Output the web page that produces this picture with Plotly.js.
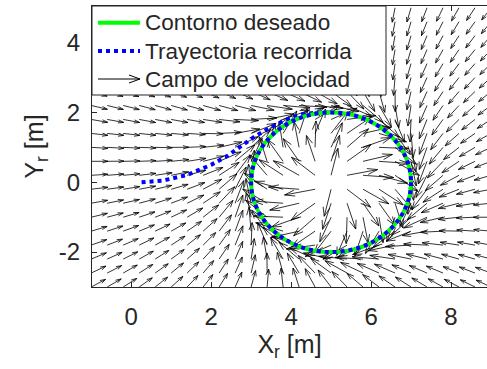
<!DOCTYPE html>
<html>
<head>
<meta charset="utf-8">
<script src="https://cdn.plot.ly/plotly-3.0.1.min.js"></script>
<style>html,body{margin:0;padding:0;background:#fff;}#chart{width:487px;height:369px;}</style>
</head>
<body>
<div id="chart"></div>
<script>
// ---- data ----
const circleCenter = [5, 0];
const circleRadius = [2];
const gridX = [-1.0,-0.6,-0.2,0.2,0.6,1.0,1.4,1.8,2.2,2.6,3.0,3.4,3.8,4.2,4.6,5.0,5.4,5.8,6.2,6.6,7.0,7.4,7.8,8.2,8.6,9.0];
const gridY = [-3.0,-2.6,-2.2,-1.8,-1.4,-1.0,-0.6,-0.2,0.2,0.6,1.0,1.4,1.8,2.2,2.6,3.0,3.4,3.8,4.2,4.6,5.0];
const trajX = [0.26, 0.8, 1.4, 2.0, 2.4, 2.72, 3.1, 3.53, 3.97, 4.32, 4.65, 5.0];
const trajY = [0.0, 0.05, 0.21, 0.5, 0.75, 1.0, 1.32, 1.6, 1.84, 1.96, 1.995, 2.0];
const xTickVals = [0, 2, 4, 6, 8];
const xTickText = ['0', '2', '4', '6', '8'];
const yTickVals = [-2, 0, 2, 4];
const yTickText = ['-2', '0', '2', '4'];
const seriesNames = ['Contorno deseado', 'Trayectoria recorrida', 'Campo de velocidad'];

// ---- velocity field (clockwise convergence to the circle) ----
function field(x, y) {
  const cx = circleCenter[0], cy = circleCenter[1], R = circleRadius[0];
  const ex = x - cx, ey = y - cy;
  const r = Math.hypot(ex, ey);
  const nx = ex / r, ny = ey / r;
  const tx = ey / r, ty = -ex / r;
  const f = r >= R ? 0.3 * (r * r - R * R) : 2.5 * (r - R);
  let dx = -f * nx + tx, dy = -f * ny + ty;
  const d = Math.hypot(dx, dy);
  dx /= d; dy /= d;
  const L = r >= R ? 0.42 + 0.3 * Math.exp(-Math.pow((r - R) / 1.3, 2))
                   : 0.72 + 0.08 * (R - r) / R;
  return [dx * L, dy * L];
}

const ax = [], ay = [];
const alpha = 0.33, beta = 0.33;
gridX.forEach(x => {
  gridY.forEach(y => {
    const [u, v] = field(x, y);
    const ex = x + u, ey = y + v;
    ax.push(x, ex, null);
    ay.push(y, ey, null);
    ax.push(ex - alpha * (u + beta * v), ex, ex - alpha * (u - beta * v), null);
    ay.push(ey - alpha * (v - beta * u), ey, ey - alpha * (v + beta * u), null);
  });
});

const traces = [
  { type: 'scatter', mode: 'lines', x: ax, y: ay, name: seriesNames[2],
    line: { color: '#000000', width: 0.8 }, hoverinfo: 'skip' },
  { type: 'scatter', mode: 'lines', x: trajX, y: trajY, name: seriesNames[1],
    line: { color: '#0000ff', width: 4, dash: 'dot' } }
];

const cx = circleCenter[0], cy = circleCenter[1], R = circleRadius[0];

// ---- legend geometry (paper units of the plot area) ----
const plotW = 395, plotH = 281;
const px = p => (p - 92) / plotW;      // pixel x -> paper x
const py = p => (287 - p) / plotH;     // pixel y -> paper y
const rowsY = [22.7, 51, 79];
const symX0 = px(98), symX1 = px(140), txtX = px(142.5);
const headBack = 11 / plotW, headHalf = 4 / plotH;

const legendShapes = [
  { type: 'rect', xref: 'paper', yref: 'paper', x0: 0, x1: px(386), y0: py(95), y1: 1,
    fillcolor: '#ffffff', line: { color: '#262626', width: 1 }, layer: 'above' },
  { type: 'line', xref: 'paper', yref: 'paper', x0: symX0, x1: symX1, y0: py(rowsY[0]), y1: py(rowsY[0]),
    line: { color: '#00ff00', width: 4 }, layer: 'above' },
  { type: 'line', xref: 'paper', yref: 'paper', x0: symX0, x1: symX1, y0: py(rowsY[1]), y1: py(rowsY[1]),
    line: { color: '#0000ff', width: 4, dash: 'dot' }, layer: 'above' },
  { type: 'path', xref: 'paper', yref: 'paper',
    path: 'M' + symX0 + ',' + py(rowsY[2]) + 'L' + symX1 + ',' + py(rowsY[2]) +
          'M' + (symX1 - headBack) + ',' + (py(rowsY[2]) + headHalf) + 'L' + symX1 + ',' + py(rowsY[2]) +
          'L' + (symX1 - headBack) + ',' + (py(rowsY[2]) - headHalf),
    line: { color: '#000000', width: 1 }, layer: 'above' }
];
const legendText = seriesNames.map((t, i) => ({
  xref: 'paper', yref: 'paper', x: txtX, y: py(rowsY[i]), xanchor: 'left', yanchor: 'middle',
  text: t, showarrow: false, font: { family: 'Liberation Sans, Arial, sans-serif', size: 22.5, color: '#262626' }
}));

const axisCommon = {
  ticks: 'inside', ticklen: 5, tickwidth: 1, tickcolor: '#262626',
  showline: true, linecolor: '#262626', linewidth: 1,
  showgrid: false, zeroline: false,
  tickfont: { family: 'Liberation Sans, Arial, sans-serif', size: 24, color: '#262626' },
  tickmode: 'array'
};
const layout = {
  width: 487, height: 369,
  margin: { l: 92, r: 0, t: 6, b: 82 },
  paper_bgcolor: '#ffffff', plot_bgcolor: '#ffffff',
  font: { family: 'Liberation Sans, Arial, sans-serif', size: 22, color: '#262626' },
  showlegend: false,
  xaxis: Object.assign({}, axisCommon, {
    range: [-0.98, 8.9], tickvals: xTickVals, ticktext: xTickText, mirror: 'ticks',
    ticklabelstandoff: 8,
    title: { text: 'X<sub>r</sub> [m]', font: { size: 25, color: '#262626' }, standoff: 6 }
  }),
  yaxis: Object.assign({}, axisCommon, {
    range: [-3.0, 5.05], tickvals: yTickVals, ticktext: yTickText, mirror: false,
    ticklabelstandoff: 6,
    title: { text: 'Y<sub>r</sub> [m]', font: { size: 25, color: '#262626' }, standoff: 8 }
  }),
  shapes: [
    { type: 'circle', xref: 'x', yref: 'y', x0: cx - R, x1: cx + R, y0: cy - R, y1: cy + R,
      line: { color: '#00ff00', width: 4 }, layer: 'above' },
    { type: 'circle', xref: 'x', yref: 'y', x0: cx - R, x1: cx + R, y0: cy - R, y1: cy + R,
      line: { color: '#0000ff', width: 4, dash: 'dot' }, layer: 'above' }
  ].concat(legendShapes),
  annotations: legendText
};

Plotly.newPlot('chart', traces, layout, { displayModeBar: false, staticPlot: true });
</script>
</body>
</html>
